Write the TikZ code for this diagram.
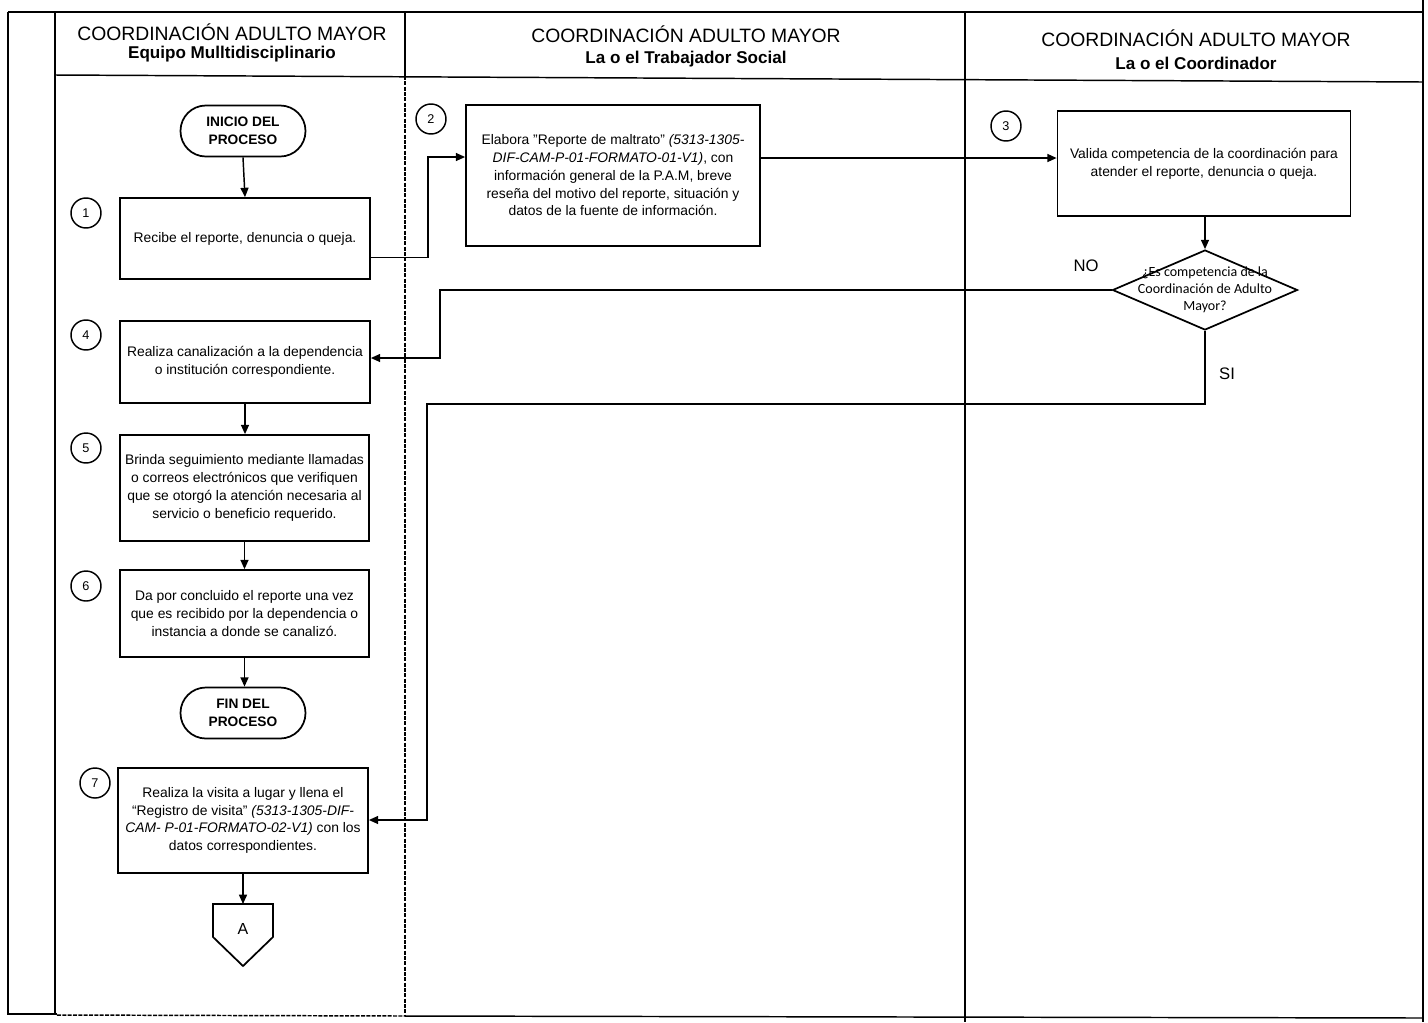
\documentclass[tikz,border=0pt]{standalone}
\usepackage{fontspec}
\setmainfont{Liberation Sans}
\newfontfamily\calfont{Carlito}
\usetikzlibrary{arrows.meta,calc,shapes.geometric}
\begin{document}
\begin{tikzpicture}[x=0.75pt,y=-0.75pt,
  ln/.style={line width=1.1pt},
  lanedash/.style={line width=1.1pt, dash pattern=on 3pt off 1pt},
  box/.style={draw, line width=1.3pt, align=center, inner sep=2pt,
    font=\fontsize{10.4}{13.3}\selectfont},
  num/.style={draw, circle, line width=1.1pt, minimum size=22.5pt, inner sep=0pt,
    font=\fontsize{9.5}{10}\selectfont},
  term/.style={draw, line width=1.3pt, rounded corners=19pt, minimum width=93.75pt,
    minimum height=38.25pt, align=center, font=\bfseries\fontsize{10.3}{13.5}\selectfont},
  arr/.style={line width=1.1pt, -{Triangle[length=7pt,width=6pt]}},
  htitle/.style={font=\fontsize{14.5}{16}\selectfont},
  hsub/.style={font=\bfseries\fontsize{12.8}{14}\selectfont},
  lbl/.style={font=\fontsize{12.5}{14}\selectfont}
]
\useasboundingbox (0,0) rectangle (1428,1022);
\fill[white] (0,0) rectangle (1428,1022);

% frame
\draw[ln] (8,12) -- (1423,12);
\draw[ln] (8,12) -- (8,1014) -- (57,1014);
\draw[ln] (405,1016) -- (1423,1018);
\draw[ln] (1423,0) -- (1423,1022);
\draw[ln] (55,12) -- (55,1014);
\draw[ln] (405,12) -- (405,76);
\draw[ln] (965,12) -- (965,1022);
\draw[ln] (55,75) -- (1423,82);
\draw[lanedash] (405,76) -- (405,1016);
\draw[lanedash] (57,1015) -- (405,1016);

% headers
\node[htitle] (h1t) at (232,32) {COORDINACIÓN ADULTO MAYOR};
\node[hsub] (h1s) at (232,54) {Equipo Mulltidisciplinario};
\node[htitle] (h2t) at (686,34) {COORDINACIÓN ADULTO MAYOR};
\node[hsub] (h2s) at (686,59) {La o el Trabajador Social};
\node[htitle] (h3t) at (1196,38) {COORDINACIÓN ADULTO MAYOR};
\node[hsub] (h3s) at (1196,63) {La o el Coordinador};

% lane 1
\node[term] (ini) at (243,131) {INICIO DEL\\PROCESO};
\node[num] (n1) at (86,213) {1};
\node[box, minimum width=187.5pt, minimum height=60.75pt] (b1) at (245,238.5)
  {Recibe el reporte, denuncia o queja.};
\node[num] (n4) at (86,335) {4};
\node[box, minimum width=187.5pt, minimum height=61.5pt] (b4) at (245,362)
  {Realiza canalización a la dependencia\\o institución correspondiente.};
\node[num] (n5) at (86,448) {5};
\node[box, minimum width=186.75pt, minimum height=79.5pt] (b5) at (244.5,488)
  {Brinda seguimiento mediante llamadas\\o correos electrónicos que verifiquen\\que se otorgó la atención necesaria al\\servicio o beneficio requerido.};
\node[num] (n6) at (86,586) {6};
\node[box, minimum width=186.75pt, minimum height=65.25pt] (b6) at (244.5,613.5)
  {Da por concluido el reporte una vez\\que es recibido por la dependencia o\\instancia a donde se canalizó.};
\node[term] (fin) at (243,713) {FIN DEL\\PROCESO};
\node[num] (n7) at (95,783) {7};
\node[box, minimum width=187.5pt, minimum height=78.75pt] (b7) at (243,820.5)
  {Realiza la visita a lugar y llena el\\“Registro de visita” \textit{(5313-1305-DIF-}\\\textit{CAM- P-01-FORMATO-02-V1)} con los\\datos correspondientes.};
\coordinate (offtop) at (243,904);
\draw[line width=1.3pt] (213,904) -- (273,904) -- (273,937) -- (243,966) -- (213,937) -- cycle;
\node[font=\fontsize{12}{14}\selectfont] (offA) at (243,929) {A};

% lane 2
\node[num] (n2) at (431,119) {2};
\node[box, minimum width=220.5pt, minimum height=105.75pt] (b2) at (613,175.5)
  {Elabora \char34Reporte de maltrato\char34{} \textit{(5313-1305-}\\\textit{DIF-CAM-P-01-FORMATO-01-V1)}, con\\información general de la P.A.M, breve\\reseña del motivo del reporte, situación y\\datos de la fuente de información.};

% lane 3
\node[num] (n3) at (1006,126) {3};
\node[box, minimum width=219.75pt, minimum height=78.75pt] (b3) at (1204,163.5)
  {Valida competencia de la coordinación para\\atender el reporte, denuncia o queja.};
\node[diamond, draw, line width=1.3pt, minimum width=138.75pt, minimum height=60pt, inner sep=0pt] (dia) at (1205,290) {};
\node[font=\calfont\fontsize{10.5}{12.75}\selectfont, align=center, inner sep=0pt] (diatext) at (dia.center)
  {¿Es competencia de la\\Coordinación de Adulto\\Mayor?};
\node[lbl] (lno) at (1086,266) {NO};
\node[lbl] (lsi) at (1227,374) {SI};

% connectors
\draw[arr] (ini.south) -- (b1.north);
\draw[arr] ($(b1.east)+(0,19)$) -| (428,157) -- (b2.west |- 0,157);
\draw[arr] (b2.east |- 0,158) -- (b3.west |- 0,158);
\draw[arr] (b3.south -| dia.north) -- (dia.north);
\draw[arr] (dia.west) -- (440,290) |- (b4.east |- 0,358);
\draw[arr] (dia.south) |- (427,404) |- (b7.east |- 0,820);
\draw[arr] (b4.south) -- (b4.south |- b5.north);
\draw[arr] (b5.south) -- (b6.north);
\draw[arr] (b6.south) -- (b6.south |- fin.north);
\draw[arr] (b7.south) -- (offtop);
\end{tikzpicture}
\end{document}
